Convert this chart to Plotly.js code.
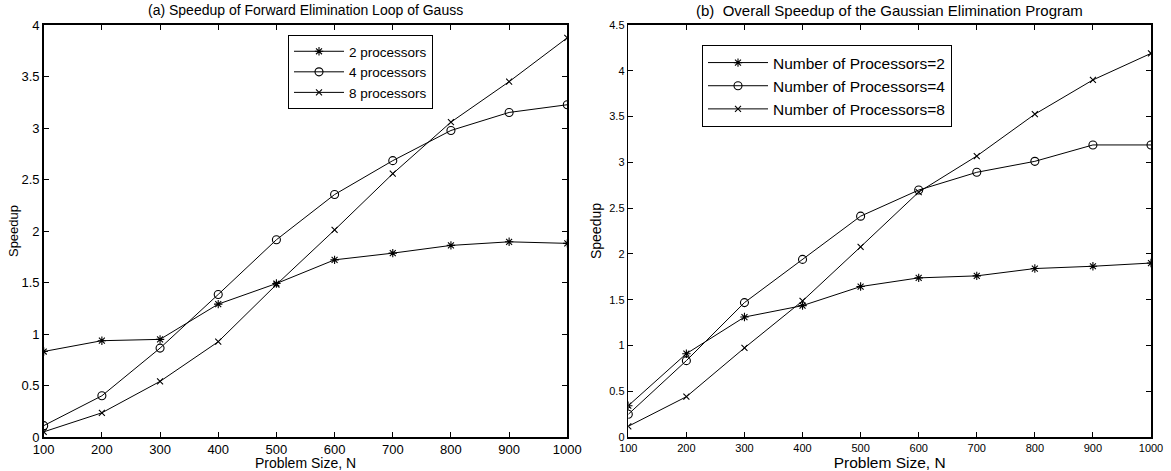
<!DOCTYPE html>
<html>
<head>
<meta charset="utf-8">
<script src="https://cdn.plot.ly/plotly-3.0.1.min.js"></script>
<style>html,body{margin:0;padding:0;background:#fff;}#chart{width:1171px;height:471px;}</style>
</head>
<body>
<div id="chart"></div>
<script>
// ---- data ----
const problemSize = [100, 200, 300, 400, 500, 600, 700, 800, 900, 1000];

// (a) Speedup of Forward Elimination Loop of Gauss
const loopNames = ['2 processors', '4 processors', '8 processors'];
const loopP2 = [0.83, 0.935, 0.948, 1.29, 1.49, 1.72, 1.785, 1.86, 1.895, 1.88];
const loopP4 = [0.11, 0.40, 0.863, 1.384, 1.915, 2.354, 2.683, 2.976, 3.151, 3.226];
const loopP8 = [0.05, 0.235, 0.54, 0.925, 1.48, 2.01, 2.556, 3.057, 3.45, 3.876];

// (b) Overall Speedup of the Gaussian Elimination Program
const overallNames = ['Number of Processors=2', 'Number of Processors=4', 'Number of Processors=8'];
const overallP2 = [0.342, 0.91, 1.31, 1.435, 1.643, 1.738, 1.76, 1.84, 1.865, 1.90];
const overallP4 = [0.248, 0.834, 1.468, 1.94, 2.412, 2.697, 2.891, 3.011, 3.19, 3.19];
const overallP8 = [0.117, 0.44, 0.973, 1.486, 2.077, 2.675, 3.069, 3.526, 3.90, 4.19];

const titleA = '(a) Speedup of Forward Elimination Loop of Gauss';
const titleB = '(b)  Overall Speedup of the Gaussian Elimination Program';
const xTitle = 'Problem Size, N';
const yTitle = 'Speedup';

// ---- styling ----
const FONT = 'Liberation Sans, Arial, Helvetica, sans-serif';
const symbols = ['asterisk-open', 'circle-open', 'x-thin-open'];
const sizes = [7, 8, 6];

function mk(y, name, i, xa, ya, leg) {
  return {
    x: problemSize, y: y, name: name, type: 'scatter', mode: 'lines+markers',
    xaxis: xa, yaxis: ya, legend: leg,
    line: {color: '#000', width: 1},
    marker: {symbol: symbols[i], size: sizes[i], color: '#000', line: {color: '#000', width: 1.1}}
  };
}

const traces = [
  mk(loopP2, loopNames[0], 0, 'x', 'y', 'legend'),
  mk(loopP4, loopNames[1], 1, 'x', 'y', 'legend'),
  mk(loopP8, loopNames[2], 2, 'x', 'y', 'legend'),
  mk(overallP2, overallNames[0], 0, 'x2', 'y2', 'legend2'),
  mk(overallP4, overallNames[1], 1, 'x2', 'y2', 'legend2'),
  mk(overallP8, overallNames[2], 2, 'x2', 'y2', 'legend2')
];

function xax(domain, tsize, titleSize, anchor) {
  return {
    domain: domain, anchor: anchor, range: [100, 1000], dtick: 100, tick0: 100,
    ticks: 'inside', ticklen: 5, tickwidth: 1, tickcolor: '#000',
    showline: true, linecolor: '#000', linewidth: 1.6, mirror: 'ticks',
    showgrid: false, zeroline: false,
    tickfont: {family: FONT, size: tsize, color: '#000'},
    title: {text: xTitle, font: {family: FONT, size: titleSize, color: '#000'}, standoff: 0}
  };
}
function yax(range, tsize, titleSize, anchor, standoff) {
  return {
    domain: [0, 1], anchor: anchor, range: range, dtick: 0.5, tick0: 0,
    ticks: 'inside', ticklen: 5, tickwidth: 1, tickcolor: '#000',
    showline: true, linecolor: '#000', linewidth: 1.6, mirror: 'ticks',
    showgrid: false, zeroline: false,
    tickfont: {family: FONT, size: tsize, color: '#000'},
    title: {text: yTitle, font: {family: FONT, size: titleSize, color: '#000'}, standoff: standoff}
  };
}

const W = 1171;
const layout = {
  width: 1171, height: 471,
  margin: {l: 0, r: 0, t: 25, b: 34},
  paper_bgcolor: '#fff', plot_bgcolor: '#fff',
  font: {family: FONT, color: '#000'},
  showlegend: true,
  xaxis: xax([43.7 / W, 567.3 / W], 13, 14, 'y'),
  yaxis: yax([0, 4], 13, 13, 'x', 0),
  xaxis2: xax([628.3 / W, 1151 / W], 11, 15.5, 'y2'),
  yaxis2: yax([0, 4.5], 11, 14, 'x2', 4),
  legend: {
    x: 288 / W, y: (437 - 35) / 412, xanchor: 'left', yanchor: 'top',
    bordercolor: '#000', borderwidth: 1, bgcolor: '#fff', itemwidth: 50,
    font: {family: FONT, size: 13.5, color: '#000'}, tracegroupgap: 0
  },
  legend2: {
    x: 702 / W, y: (437 - 45) / 412, xanchor: 'left', yanchor: 'top',
    bordercolor: '#000', borderwidth: 1, bgcolor: '#fff', itemwidth: 60,
    font: {family: FONT, size: 15.5, color: '#000'}, tracegroupgap: 0
  },
  annotations: [
    {text: titleA, xref: 'paper', yref: 'paper', x: (43.7 + 567.3) / 2 / W, y: 1, yshift: 15,
     xanchor: 'center', yanchor: 'middle', showarrow: false,
     font: {family: FONT, size: 14, color: '#000'}},
    {text: titleB, xref: 'paper', yref: 'paper', x: (628.3 + 1151) / 2 / W, y: 1, yshift: 15,
     xanchor: 'center', yanchor: 'middle', showarrow: false,
     font: {family: FONT, size: 15, color: '#000'}}
  ]
};

Plotly.newPlot('chart', traces, layout, {displayModeBar: false, staticPlot: true});
</script>
</body>
</html>
